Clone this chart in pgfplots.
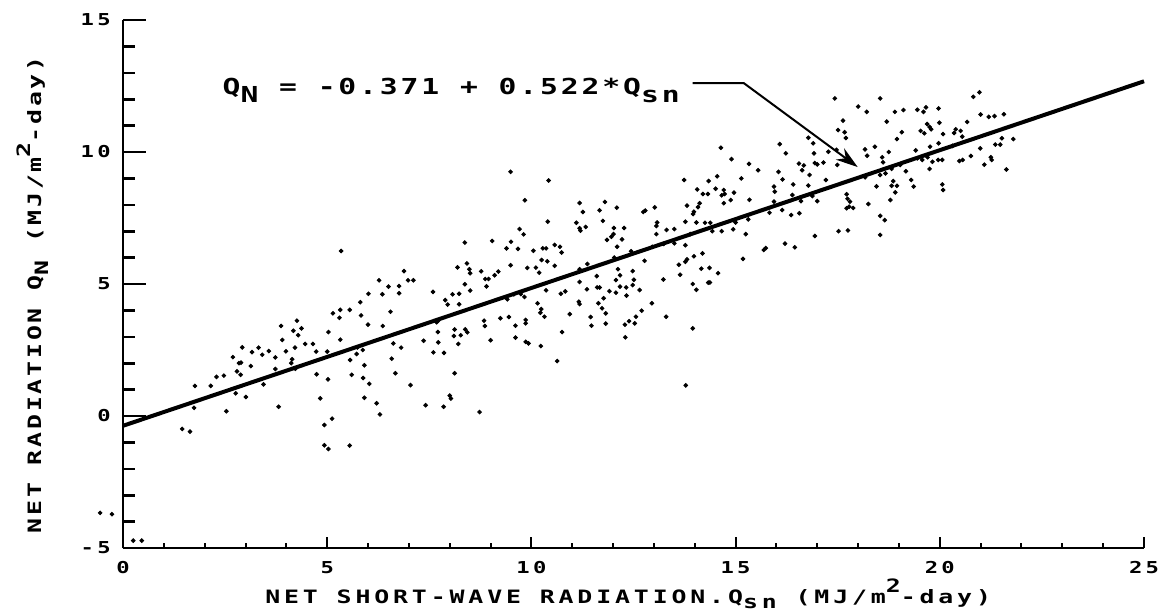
\documentclass[border=0pt]{standalone}
\usepackage{pgfplots}
\pgfplotsset{compat=1.18}
\usepackage{pgfplotstable}
\usepackage{fontspec}
\usetikzlibrary{arrows.meta}
\newfontfamily\tickfont{DejaVu Sans Mono}[FakeStretch=1.35, LetterSpace=20]
\newfontfamily\xlabfont{DejaVu Sans Mono}[FakeStretch=1.35, LetterSpace=21]
\newfontfamily\ylabfont{DejaVu Sans Mono}[FakeStretch=1.35, LetterSpace=15]
\newfontfamily\eqfont{DejaVu Sans Mono}[FakeStretch=1.35, LetterSpace=13]
\pgfplotstableread{
x y
5.34 6.25
6.27 5.14
6.01 4.63
5.81 4.31
5.14 3.89
5.32 4.02
5.30 3.72
5.55 4.02
5.83 3.81
6.00 3.46
5.03 3.18
5.32 2.89
3.87 3.41
4.26 3.61
4.17 3.23
4.37 3.32
4.29 3.06
3.90 2.88
4.46 2.73
4.65 2.73
2.92 2.60
3.32 2.59
3.16 2.42
3.41 2.32
3.57 2.46
3.99 2.45
4.21 2.59
4.73 2.44
5.00 2.44
2.69 2.23
2.84 2.00
2.89 2.02
3.13 1.89
3.73 2.22
2.79 1.69
2.88 1.56
3.73 1.78
4.14 2.15
4.12 2.00
4.22 1.79
5.74 2.60
5.87 2.50
5.72 2.35
5.56 2.12
5.91 1.92
4.74 1.58
5.02 1.39
5.60 1.56
5.88 1.44
6.03 1.22
2.29 1.48
2.47 1.53
1.76 1.14
2.15 1.14
3.44 1.20
2.76 0.86
3.01 0.72
4.83 0.67
5.91 0.69
6.21 0.48
6.29 0.06
1.74 0.31
2.53 0.18
3.81 0.35
5.12 -0.10
4.93 -0.34
1.45 -0.49
1.64 -0.59
4.93 -1.11
5.03 -1.25
5.55 -1.12
0.25 -4.72
0.46 -4.72
-0.56 -3.67
-0.27 -3.72
9.49 9.25
10.42 8.92
9.84 8.17
11.18 8.07
11.26 7.73
11.67 7.79
11.80 8.11
12.09 7.89
10.40 7.36
11.75 7.39
11.10 7.32
11.18 7.11
11.20 7.02
11.33 7.16
12.02 7.12
12.27 7.12
9.71 7.08
9.81 6.88
12.01 6.89
11.96 6.79
12.22 6.69
11.85 6.67
8.37 6.57
9.04 6.63
9.50 6.60
9.39 6.35
9.67 6.33
10.05 6.26
10.28 6.35
10.36 6.35
10.57 6.48
10.70 6.41
10.74 6.19
12.10 6.41
12.03 6.00
8.42 5.78
8.48 5.56
8.50 5.41
8.19 5.63
8.77 5.48
9.19 5.47
9.10 5.33
8.87 5.19
8.95 5.19
9.49 5.71
9.90 5.61
10.11 5.62
10.19 5.43
10.25 5.91
10.39 5.86
10.57 5.69
11.18 5.56
11.37 5.76
11.60 5.30
12.12 5.56
12.17 5.33
12.07 5.15
12.17 4.90
6.88 5.49
6.98 5.14
7.11 5.14
6.50 4.90
6.76 4.92
6.76 4.65
6.35 4.61
7.59 4.70
8.37 4.99
8.50 4.75
8.90 4.91
7.89 4.39
7.95 4.22
8.07 4.61
8.23 4.63
8.23 4.23
9.41 4.42
9.57 4.61
9.74 4.62
9.83 4.51
10.36 4.76
10.15 4.27
10.24 4.05
10.22 3.91
10.32 3.76
10.72 4.63
10.83 4.72
11.18 5.08
11.16 4.33
11.18 4.24
11.36 4.80
11.61 4.87
11.67 4.87
11.77 4.46
11.64 4.27
11.73 4.08
11.82 3.89
11.91 4.73
12.07 4.67
12.32 4.87
12.33 4.56
6.55 3.95
7.72 3.61
7.68 3.55
7.71 3.18
8.12 3.28
8.10 3.03
8.27 3.06
8.38 3.28
8.43 3.17
8.84 3.61
8.86 3.41
9.24 3.70
9.45 3.75
9.61 3.42
9.86 3.64
9.86 3.51
9.61 2.97
9.86 2.81
9.93 2.75
10.23 2.65
10.94 3.86
10.75 3.18
11.45 3.75
11.47 3.42
11.82 3.50
12.29 3.46
12.39 3.59
12.30 2.98
6.36 3.41
6.62 2.75
6.81 2.59
7.36 2.85
7.72 2.79
7.60 2.41
7.86 2.39
8.21 2.73
9.00 2.87
6.58 2.17
6.67 1.62
7.04 1.17
8.12 1.62
10.63 2.08
7.41 0.41
7.85 0.35
8.00 0.77
8.03 0.66
8.73 0.15
17.43 12.03
18.00 11.72
18.21 11.52
17.63 11.19
17.51 10.83
17.67 10.75
17.70 10.53
16.78 10.54
16.90 10.33
16.08 10.30
16.23 9.95
16.92 9.95
14.64 10.16
14.90 9.73
15.33 9.55
15.55 9.31
16.05 9.25
16.15 8.96
16.55 9.56
16.67 9.49
16.63 9.31
16.94 9.58
17.00 9.53
17.15 9.60
16.81 9.13
17.27 10.01
17.49 9.51
17.47 10.08
17.73 9.70
18.17 10.10
18.22 9.86
18.41 10.20
18.54 12.03
18.54 9.13
18.45 8.70
18.17 9.04
17.21 8.94
16.41 8.77
16.78 8.73
13.74 8.94
14.34 8.90
14.55 9.08
15.14 9.00
14.06 8.58
14.20 8.41
14.32 8.41
14.51 8.61
14.71 8.56
14.66 8.36
14.73 8.41
14.96 8.46
14.88 8.18
14.71 8.06
15.34 8.19
15.94 8.69
15.96 8.50
16.39 8.37
16.60 8.14
16.88 8.33
17.00 8.14
17.72 8.40
17.74 8.23
17.72 7.87
17.78 7.93
17.80 8.12
17.88 7.88
18.25 8.03
18.54 7.58
18.54 6.86
17.52 7.00
17.75 7.03
16.94 6.82
13.81 7.97
14.12 8.06
14.08 7.91
13.98 7.74
13.96 7.65
13.77 7.36
14.04 7.33
14.25 7.32
13.89 6.89
13.77 6.47
14.38 7.32
14.43 7.00
14.66 7.00
14.94 7.07
15.00 7.33
15.31 7.45
15.25 6.89
15.83 7.70
16.14 7.80
16.36 7.61
16.56 7.68
15.94 8.12
15.69 6.29
15.74 6.36
16.21 6.53
16.45 6.39
15.18 5.95
13.02 7.90
12.79 7.78
12.74 7.73
13.08 7.33
13.06 7.20
13.06 6.89
13.31 7.05
13.50 7.08
12.44 6.24
12.96 6.41
13.24 6.52
13.50 6.54
12.77 5.88
13.23 5.17
13.61 5.73
13.77 5.84
13.81 5.93
13.98 6.05
14.19 6.16
13.64 5.35
14.16 5.58
14.36 5.61
14.57 5.41
14.33 5.05
14.37 5.06
13.95 5.00
14.04 4.78
12.48 5.49
12.51 5.16
12.48 4.96
12.65 4.77
12.95 4.27
12.70 3.99
12.56 3.76
12.53 3.51
13.30 3.76
13.95 3.32
13.78 1.16
20.97 12.26
20.82 12.09
18.90 11.52
19.11 11.59
19.45 11.60
19.60 11.52
19.66 11.69
19.97 11.65
18.70 11.15
21.00 11.42
21.20 11.33
21.34 11.36
21.57 11.43
19.99 11.11
19.69 11.06
19.75 10.95
19.79 10.86
19.53 10.80
19.62 10.71
19.07 10.75
18.95 10.49
20.08 10.68
20.39 10.86
20.35 10.72
20.51 10.80
20.55 10.58
20.67 11.14
21.52 10.52
21.80 10.49
21.36 10.28
21.48 10.28
20.99 10.14
18.75 10.00
18.59 9.80
18.61 9.61
19.41 10.06
19.76 10.20
19.97 10.33
20.31 10.23
19.45 9.76
19.57 9.70
19.70 9.80
19.82 9.63
19.96 9.70
20.06 9.70
20.48 9.66
20.56 9.70
20.76 9.85
21.25 9.80
21.27 9.70
21.09 9.52
21.63 9.34
19.75 9.36
19.03 9.51
18.82 9.36
18.67 9.19
19.17 9.27
19.30 8.94
19.36 8.69
18.86 8.90
18.82 8.72
18.95 8.72
18.91 8.47
20.06 8.77
20.08 8.56
18.79 8.18
18.65 7.42
}\datatable
\begin{document}
\begin{tikzpicture}
\path[use as bounding box] (-61.5pt,-31.5pt) rectangle (521.5pt,274pt);
\begin{axis}[
  at={(0pt,0pt)}, anchor=south west,
  scale only axis, width=510.5pt, height=264pt,
  xmin=0, xmax=25, ymin=-5, ymax=15,
  axis x line=bottom, axis y line=left,
  axis line style={line width=1.4pt, -},
  xtick=\empty,
  ytick={-5,0,5,10,15}, yticklabels={-5,0,5,10,15},
  minor y tick num=4,
  major tick length=11.5pt, minor tick length=6pt,
  tick style={line width=1.3pt, black},
  tick align=inside,
  yticklabel style={font=\tickfont\bfseries\fontsize{8.2}{8.2}\selectfont, inner sep=0pt, xshift=-6pt},
  clip=false,
]
\addplot[only marks, mark=*, mark size=0.95pt, black] table[x=x, y=y] {\datatable};
\addplot[line width=2pt, black] coordinates {(0,-0.371) (25,12.679)};
\draw[line width=1pt, -{Stealth[length=11pt,width=7pt]}] (axis cs:13.95,12.61) -- (axis cs:15.20,12.61) -- (axis cs:17.99,9.43);
\node[anchor=base west, inner sep=0pt, font=\eqfont\bfseries\fontsize{11}{11}\selectfont] at (axis cs:2.43,12.16) {Q\raisebox{-4pt}{N} = -0.371 + 0.522*Q\raisebox{-4pt}{sn}};
\node[anchor=base west, inner sep=0pt, font=\xlabfont\bfseries\fontsize{9.2}{9.2}\selectfont] at (rel axis cs:0.1390,-0.1060) {NET SHORT-WAVE RADIATION.Q\raisebox{-2.5pt}{sn}  (MJ/m\raisebox{5.5pt}{2}-day)};
\node[rotate=90, anchor=base west, inner sep=0pt, font=\ylabfont\bfseries\fontsize{9.2}{9.2}\selectfont] at (rel axis cs:-0.0803,0.0275) {NET RADIATION Q\raisebox{-3.5pt}{N}  (MJ/m\raisebox{5.5pt}{2}-day)};
\end{axis}
\begin{axis}[
  at={(0pt,0pt)}, anchor=south west,
  scale only axis, width=510.5pt, height=264pt,
  xmin=0, xmax=25, ymin=-5, ymax=15,
  axis x line=bottom, axis y line=none,
  axis line style={line width=1.4pt, -},
  xtick={0,5,10,15,20,25}, xticklabels={0,5,10,15,20,25},
  minor x tick num=4,
  major tick length=5.5pt, minor tick length=2.5pt,
  tick style={line width=1pt, black},
  tick align=inside,
  xticklabel style={font=\tickfont\bfseries\fontsize{8.2}{8.2}\selectfont, inner sep=0pt, yshift=-6.5pt},
]
\end{axis}
\end{tikzpicture}
\end{document}
